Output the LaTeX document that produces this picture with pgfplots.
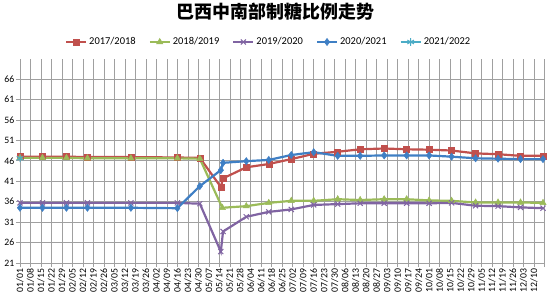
\documentclass[border=0pt]{standalone}
\usepackage{fontspec}
\setmainfont{Carlito}
\newfontfamily\cjk{Noto Sans CJK SC}
\usepackage{pgfplots}
\pgfplotsset{compat=1.18}
\definecolor{cred}{HTML}{C0504D}
\definecolor{cgreen}{HTML}{9BBB59}
\definecolor{cpurple}{HTML}{8064A2}
\definecolor{cblue}{HTML}{3F7FC4}
\definecolor{cteal}{HTML}{4BACC6}
\definecolor{cgrid}{HTML}{A0A0A0}
\begin{document}
\begin{tikzpicture}[x=1bp,y=1bp]
\path[use as bounding box] (0,0) rectangle (550,298);
\begin{axis}[
  at={(20bp,35bp)}, anchor=origin,
  scale only axis, width=524.5bp, height=204.5bp,
  xmin=0, xmax=350, ymin=21, ymax=71,
  xtick={0,7,...,350},
  xticklabels={01/01,01/08,01/15,01/22,01/29,02/05,02/12,02/19,02/26,03/05,03/12,03/19,03/26,04/02,04/09,04/16,04/23,04/30,05/07,05/14,05/21,05/28,06/04,06/11,06/18,06/25,07/02,07/09,07/16,07/23,07/30,08/06,08/13,08/20,08/27,09/03,09/10,09/17,09/24,10/01,10/08,10/15,10/22,10/29,11/05,11/12,11/19,11/26,12/03,12/10,{}},
  ytick={21,26,...,66},
  /pgf/number format/assume math mode=true,
  tick pos=left, tick align=outside, major tick length=4bp,
  tick style={cgrid, line width=0.6bp},
  grid=major, major grid style={cgrid, line width=0.6bp},
  axis line style={draw=none},
  xticklabel style={font=\fontsize{9.8}{10}\selectfont, rotate=90, anchor=east, inner sep=1.5bp},
  yticklabel style={font=\fontsize{9.8}{10}\selectfont, inner sep=1.5bp},
  legend columns=5,
  legend style={at={(0.474,1.0807)}, anchor=center, draw=none, fill=none,
    font=\fontsize{10.5}{12}\selectfont,
    /tikz/every odd column/.append style={column sep=0bp},
    /tikz/every even column/.append style={column sep=11bp}},
  legend image code/.code={\draw[#1, mark repeat=2, mark phase=2] plot coordinates {(0bp,0bp) (10bp,0bp) (20bp,0bp)};},
  every axis plot/.append style={line width=2.2bp},
  clip=false,
]
\addplot[cred, mark=square*, mark size=3bp, mark options={solid, line width=0.5bp, fill=cred}] coordinates {
(0,47.0) (15,47.0) (31,47.0) (45,46.9) (74,46.9) (105,46.8) (120,46.7) (134,39.6) (135.5,41.7) (151,44.4) (166,45.2) (181,46.4) (196,47.7) (212,48.2) (227,48.8) (243,49.0) (258,48.8) (273,48.7) (288,48.5) (304,47.8) (319,47.6) (334,47.2) (349,47.2)};
\addlegendentry{2017/2018}
\addplot[cgreen, mark=triangle*, mark size=3.6bp, mark options={solid, line width=0.5bp, fill=cgreen}] coordinates {
(0,46.7) (15,46.7) (31,46.7) (45,46.6) (74,46.6) (105,46.6) (120,46.5) (135,34.5) (151,34.9) (166,35.7) (181,36.2) (196,36.2) (212,36.6) (227,36.4) (243,36.6) (258,36.6) (273,36.3) (288,36.2) (304,35.8) (319,35.8) (334,35.8) (349,35.7)};
\addlegendentry{2018/2019}
\addplot[cpurple, mark=x, mark size=3.6bp, mark options={solid, line width=1bp}] coordinates {
(0,35.7) (15,35.7) (31,35.7) (45,35.7) (74,35.7) (105,35.7) (120,35.5) (134,23.8) (135.5,28.7) (151,32.3) (166,33.5) (181,34.1) (196,35.2) (212,35.4) (227,35.6) (243,35.6) (258,35.6) (273,35.6) (288,35.7) (304,35.0) (319,34.9) (334,34.6) (349,34.4)};
\addlegendentry{2019/2020}
\addplot[cblue, mark=diamond*, mark size=3.6bp, mark options={solid, line width=0.5bp, fill=cblue}] coordinates {
(0,34.5) (15,34.5) (31,34.5) (45,34.5) (74,34.5) (105,34.4) (120,39.8) (134,43.7) (135.5,45.5) (151,45.9) (166,46.2) (181,47.4) (196,48.1) (212,47.2) (227,47.2) (243,47.3) (258,47.3) (273,47.3) (288,47.0) (304,46.6) (319,46.5) (334,46.4) (349,46.4)};
\addlegendentry{2020/2021}
\addplot[cteal, mark=asterisk, mark size=3.8bp, mark options={solid, line width=1bp}] coordinates {
(0,46.6)};
\addlegendentry{2021/2022}
\node[font=\cjk\bfseries\fontsize{18}{20}\selectfont, anchor=center] at (rel axis cs:0.487,1.227) {巴西中南部制糖比例走势};
\end{axis}
\end{tikzpicture}
\end{document}
